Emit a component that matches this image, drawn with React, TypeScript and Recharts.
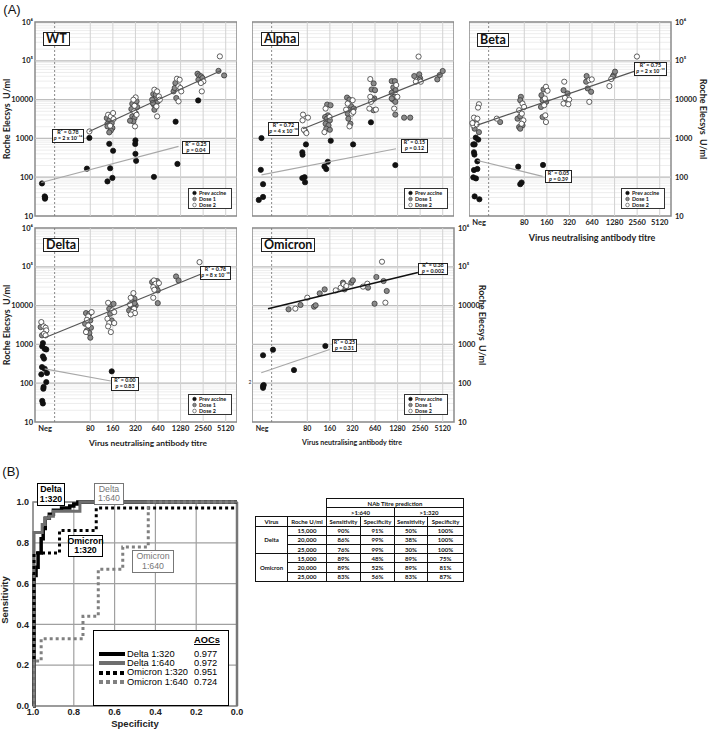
import React from 'react';
import {
  ScatterChart, Scatter, XAxis, YAxis, CartesianGrid, ReferenceLine, ReferenceArea,
  LineChart, Line,
} from 'recharts';

// ---------------- Panel A data ----------------
// x: titre position (Neg ≈ 1, 80 = 3, 160 = 4, … 5120 = 9), y: Roche Elecsys U/ml
const titreTicks = [1, 3, 4, 5, 6, 7, 8, 9];
const titreLabels = ['Neg', '80', '160', '320', '640', '1280', '2560', '5120'];
const yDecades = [10, 100, 1000, 10000, 100000, 1000000];
const yDecadeLabels = ['10', '100', '1000', '10000', '10⁵', '10⁶'];
const yMinorSteps = [2, 3, 4, 5, 6, 7, 8, 9];
const cutoffX = 1.42;
const legendLabels = ['Prev accine', 'Dose 1', 'Dose 2'];

const wtPrev = [[0.86,69],[0.98,32],[0.99,28],[1.0,30],[2.85,166],[2.96,1030],[3.84,725],[4.01,480],[3.88,170],[3.76,78],[3.98,96],[5.0,890],[4.99,720],[5.0,400],[5.03,264],[5.82,102],[6.78,2700],[6.86,220],[7.78,9500]];
const wtDose1 = [[3.73,3340],[3.85,2910],[3.95,2480],[3.76,2380],[3.98,1850],[3.91,1610],[3.84,1430],[3.76,2040],[5.05,9000],[4.86,7820],[5.08,6420],[4.82,5700],[5.01,4500],[4.86,3690],[4.96,3340],[4.91,2740],[4.76,2850],[5.79,13900],[5.89,11000],[5.74,9930],[5.99,9000],[5.82,7380],[5.84,5480],[5.77,8150],[5.9,13400],[6.77,26700],[6.69,16300],[6.81,11000],[6.74,19900],[7.75,46500],[7.82,42100],[7.91,39600],[7.79,32500],[7.97,35900],[8.68,55000],[8.93,42000]];
const wtDose2 = [[2.96,1510],[3.79,4070],[3.91,3690],[4.01,4500],[3.88,2120],[4.03,3150],[5.01,11400],[4.91,9930],[4.96,6950],[4.94,4960],[4.98,2040],[5.05,4070],[5.84,18000],[5.96,16300],[6.04,12100],[5.93,6680],[5.96,3690],[6.08,9930],[6.84,34500],[6.96,32500],[6.91,21900],[6.91,9000],[6.99,19900],[7.03,16300],[8.01,29500],[7.9,26700],[7.94,16300],[8.74,130000]];
const wtDoseFit = [[2.95,1500],[8.8,56000]];
const wtPrevFit = [[0.83,73],[6.91,620]];
const wtR2 = ['0.78', '0.25'];
const wtP = ['2 x 10⁻¹⁴', '0.04'];

const alphaPrev = [[0.97,1020],[0.94,155],[1.04,66],[0.85,26],[1.04,31],[2.94,700],[2.78,440],[2.79,380],[2.78,95],[2.88,100],[2.9,74],[4.04,870],[3.91,250],[3.76,190],[3.84,162],[5.03,700],[5.82,2600],[6.9,205]];
const alphaDose1 = [[2.91,1540],[3.88,7450],[4.03,7160],[3.91,3930],[3.79,3560],[3.87,3230],[4.0,2920],[3.81,2390],[3.94,2170],[3.84,1780],[4.0,1670],[4.76,11300],[4.87,10000],[4.94,6750],[4.87,5310],[5.06,5870],[4.79,4350],[4.82,3230],[4.91,2390],[5.94,26100],[5.85,18200],[6.0,17500],[5.97,10700],[5.9,10000],[5.93,5310],[6.74,30000],[6.88,30000],[6.81,20600],[6.91,17500],[6.74,15000],[6.85,11800],[6.79,10000],[6.9,8740],[6.9,4100],[6.74,10700],[7.29,3430],[7.56,3430],[7.74,40500],[7.96,44700],[8.0,35200],[7.97,31900],[8.76,33200],[8.87,43000],[9.0,54600]];
const alphaDose2 = [[2.81,4100],[3.03,3430],[2.79,2920],[2.85,1670],[2.96,1370],[3.81,5870],[3.99,3560],[3.76,1450],[5.01,9640],[4.79,7910],[4.72,5520],[4.97,4350],[4.87,2040],[5.04,4810],[5.79,33800],[5.79,11800],[5.75,5870],[6.04,5520],[5.82,8740],[6.94,23700],[6.99,11800],[6.85,5870],[7.93,128500],[7.81,28900],[8.03,28900]];
const alphaDoseFit = [[2.81,1780],[8.91,46000]];
const alphaPrevFit = [[0.97,115],[6.93,540]];
const alphaR2 = ['0.72', '0.15'];
const alphaP = ['4 x 10⁻¹⁰', '0.12'];

const betaPrev = [[0.85,1050],[0.96,930],[0.74,700],[0.8,700],[0.77,440],[0.79,383],[0.92,257],[0.77,153],[0.92,163],[0.74,99],[0.86,93],[0.8,32],[1.01,27],[2.73,187],[2.82,66],[2.88,73],[3.83,207]];
const betaDose1 = [[0.85,2920],[0.8,1780],[0.99,1450],[1.93,2640],[2.85,11800],[2.82,9640],[2.7,3230],[2.82,3710],[2.77,1960],[2.92,2170],[2.82,1780],[3.85,18200],[3.76,13000],[3.81,9640],[3.97,8740],[3.74,6470],[3.81,3560],[4.74,17500],[4.92,14400],[4.89,8740],[5.76,40500],[5.74,28900],[5.81,19400],[5.96,15900],[6.96,43000],[7.02,52500],[6.92,38900]];
const betaDose2 = [[0.99,7600],[0.95,6220],[0.77,3430],[0.92,3230],[0.74,2170],[0.89,2300],[0.7,2490],[1.78,3230],[2.92,7910],[2.99,6470],[2.77,5310],[2.89,4350],[2.96,2920],[2.88,2390],[3.96,21400],[4.03,16900],[3.91,10700],[3.88,7160],[3.93,3930],[3.96,2640],[4.77,28900],[4.8,11100],[4.99,10000],[4.74,7910],[4.95,7600],[5.88,31900],[5.99,33200],[5.88,8740],[6.77,22300],[6.85,33800],[7.99,129000]];
const betaDoseFit = [[0.92,2200],[7.96,56000]];
const betaPrevFit = [[0.92,270],[3.81,105]];
const betaR2 = ['0.75', '0.05'];
const betaP = ['2 x 10⁻¹⁵', '0.39'];

const deltaPrev = [[0.9,1080],[0.87,890],[0.98,770],[1.05,740],[0.9,490],[0.95,430],[0.86,260],[0.98,236],[1.08,183],[0.83,169],[1.05,107],[0.93,80],[0.92,72],[0.87,35],[0.9,30],[3.95,202]];
const deltaDose1 = [[0.8,2790],[0.86,1710],[2.81,6410],[2.96,6170],[3.0,4150],[2.77,3410],[3.03,2690],[2.85,2300],[2.96,1960],[3.0,1490],[3.91,10500],[4.03,11100],[3.84,8280],[3.88,6170],[3.95,4150],[4.96,15000],[4.86,12300],[5.01,10100],[4.82,9140],[4.72,7510],[4.91,9530],[4.96,11600],[5.96,42800],[5.74,40300],[5.93,28800],[5.99,24600],[5.99,11600],[6.8,56400],[6.91,44500]];
const deltaDose2 = [[0.83,3760],[0.93,2910],[1.02,2690],[1.05,2300],[0.95,1880],[1.02,1710],[2.91,5260],[3.06,6800],[2.85,4310],[2.91,3080],[2.81,2080],[3.79,11800],[3.98,7510],[4.06,6800],[3.76,4580],[3.84,3540],[4.06,3540],[3.91,2080],[3.79,2910],[4.91,21000],[4.79,15900],[4.76,10700],[4.94,8280],[4.86,6800],[4.98,6410],[4.79,5930],[5.82,44500],[5.89,36500],[6.04,37900],[5.79,29900],[5.84,25600],[5.79,15900],[7.84,132000]];
const deltaDoseFit = [[0.98,1480],[7.94,66000]];
const deltaPrevFit = [[0.98,235],[3.91,114]];
const deltaR2 = ['0.78', '0.00'];
const deltaP = ['8 x 10⁻¹⁸', '0.83'];

const omicronPrev = [[1.04,525],[1.48,730],[1.04,85],[1.04,76],[1.07,90],[2.41,218],[3.8,910]];
const omicronDose1 = [[2.17,8020],[2.7,10400],[3.3,9400],[3.37,10200],[3.55,20700],[3.77,26200],[4.58,39000],[4.65,26200],[4.95,39000],[5.02,44800],[5.69,29000],[5.98,11200],[6.06,54600],[6.38,43000],[6.52,23800]];
const omicronDose2 = [[2.47,8340],[3.0,16000],[4.26,24700],[4.48,29000],[4.61,35300],[4.73,32000],[5.47,30800],[5.66,36700],[6.31,135000],[6.46,11900]];
const omicronDoseFit = [[1.26,8300],[7.9,71000]];
const omicronPrevFit = [[0.96,186],[3.99,740]];
const omicronR2 = ['0.38', '0.25'];
const omicronP = ['0.002', '0.31'];

// ---------------- Panel B data ----------------
const rocTicks = [0, 0.2, 0.4, 0.6, 0.8, 1.0];
const delta320Roc = [[1.0,0],[0.995,0],[0.995,0.64],[0.985,0.64],[0.985,0.68],[0.975,0.68],[0.975,0.75],[0.96,0.75],[0.96,0.82],[0.95,0.82],[0.95,0.87],[0.94,0.87],[0.94,0.92],[0.92,0.92],[0.92,0.94],[0.9,0.94],[0.9,0.96],[0.86,0.96],[0.86,0.97],[0.82,0.97],[0.82,0.98],[0.8,0.98],[0.8,0.99],[0.78,0.99],[0.78,1.0],[0.0,1.0]];
const delta640Roc = [[1.0,0],[0.995,0],[0.995,0.85],[0.955,0.85],[0.955,0.89],[0.94,0.89],[0.94,0.92],[0.92,0.92],[0.92,0.93],[0.9,0.93],[0.9,0.955],[0.77,0.955],[0.77,1.0],[0.0,1.0]];
const omicron320Roc = [[1.0,0],[0.995,0],[0.995,0.75],[0.87,0.75],[0.87,0.86],[0.69,0.86],[0.69,0.97],[0.0,0.97]];
const omicron640Roc = [[1.0,0],[0.995,0],[0.995,0.22],[0.96,0.22],[0.96,0.33],[0.755,0.33],[0.755,0.44],[0.68,0.44],[0.68,0.67],[0.56,0.67],[0.56,0.78],[0.435,0.78],[0.435,1.0],[0.0,1.0]];
const aocNames = ['Delta 1:320', 'Delta 1:640', 'Omicron 1:320', 'Omicron 1:640'];
const aocValues = ['0.977', '0.972', '0.951', '0.724'];

// ---------------- Table data ----------------
const tableHead = ['Virus', 'Roche U/ml', 'Sensitivity', 'Specificity', 'Sensitivity', 'Specificity'];
const tableThresholds = ['>1:640', '>1:320'];
const tableViruses = ['Delta', 'Omicron'];
const deltaRows = [['15,000','90%','91%','50%','100%'],['20,000','86%','99%','38%','100%'],['25,000','76%','99%','30%','100%']];
const omicronRows = [['15,000','89%','48%','89%','75%'],['20,000','89%','52%','89%','81%'],['25,000','83%','56%','83%','87%']];

// ---------------- helpers ----------------
const toXY = (a: number[][]) => a.map(([x, y]) => ({ x, y }));
const yAllTicks: number[] = [];
yDecades.forEach((d, i) => {
  yAllTicks.push(d);
  if (i < yDecades.length - 1) yMinorSteps.forEach((k) => yAllTicks.push(d * k));
});
const fmtY = (v: number) => {
  const i = yDecades.indexOf(v);
  return i >= 0 ? yDecadeLabels[i] : '';
};
const fmtX = (v: number) => {
  const i = titreTicks.indexOf(v);
  return i >= 0 ? titreLabels[i] : '';
};

const NoShape = () => <g />;
const makeDot = (fill: string, stroke: string) => (props: any) => {
  const { cx, cy } = props;
  if (cx == null || cy == null) return <g />;
  return <circle cx={cx} cy={cy} r={2.6} fill={fill} stroke={stroke} strokeWidth={0.8} />;
};
const PrevDot = makeDot('#111', '#111');
const Dose1Dot = makeDot('#8a8a8a', '#3a3a3a');
const Dose2Dot = makeDot('#ffffff', '#3a3a3a');

const FONT_A = 'Lato, "Open Sans", sans-serif';
const FONT_B = '"Liberation Sans", Arial, sans-serif';
const PW = 202;
const PH = 194;
const AX = 30;
const M = 6;
const XH = 14;

type PanelProps = {
  left: number; top: number;
  prev: number[][]; dose1: number[][]; dose2: number[][];
  doseFit: number[][]; prevFit: number[][];
  yAxis: 'left' | 'right' | 'none'; showX: boolean;
  fitColor?: string; fitWidth?: number; xFont?: number;
};

function Panel(p: PanelProps) {
  const hasY = p.yAxis !== 'none';
  const width = PW + (hasY ? AX : 0);
  const height = M + PH + (p.showX ? XH : M);
  const cLeft = p.left - (p.yAxis === 'left' ? AX : 0);
  const tickStyle = { fontSize: 7.5, fontWeight: 700, fill: '#222', fontFamily: FONT_A };
  return (
    <div style={{ position: 'absolute', left: cLeft, top: p.top - M }}>
      <ScatterChart width={width} height={height}
        margin={{ top: M, right: 0, bottom: p.showX ? 0 : M, left: 0 }}>
        <CartesianGrid vertical={false} stroke="#e8e8e8" strokeWidth={0.8} />
        <XAxis type="number" dataKey="x" domain={[0.55, 9.5]} allowDataOverflow
          ticks={titreTicks} interval={0} tickFormatter={fmtX} hide={!p.showX}
          height={XH} axisLine={false} tickLine={false} tickSize={0} tickMargin={4}
          tick={{ ...tickStyle, fontSize: p.xFont ?? 7.5 }} />
        <YAxis type="number" dataKey="y" scale="log" domain={[10, 1000000]} allowDataOverflow
          ticks={yAllTicks} interval={0} tickFormatter={fmtY} hide={!hasY}
          orientation={p.yAxis === 'right' ? 'right' : 'left'} width={AX}
          axisLine={false} tickLine={false} tickSize={0} tickMargin={p.yAxis === 'right' ? 4 : 2}
          tick={tickStyle} />
        {yDecades.slice(1, -1).map((v) => (
          <ReferenceLine key={'h' + v} y={v} stroke="#bfbfbf" strokeWidth={1.2} />
        ))}
        {titreTicks.slice(1).map((v) => (
          <ReferenceLine key={'v' + v} x={v} stroke="#d2d2d2" strokeWidth={1} />
        ))}
        <ReferenceLine x={cutoffX} stroke="#7a7a7a" strokeWidth={0.9} strokeDasharray="2 2" />
        <ReferenceArea x1={0.55} x2={9.5} y1={10} y2={1000000} fill="none" stroke="#8a8a8a" strokeWidth={1.5} />
        <Scatter data={toXY(p.prev)} shape={PrevDot} isAnimationActive={false} />
        <Scatter data={toXY(p.dose1)} shape={Dose1Dot} isAnimationActive={false} />
        <Scatter data={toXY(p.dose2)} shape={Dose2Dot} isAnimationActive={false} />
        <Scatter data={toXY(p.prevFit)} shape={NoShape} line={{ stroke: '#a8a8a8', strokeWidth: 1.2 }} isAnimationActive={false} />
        <Scatter data={toXY(p.doseFit)} shape={NoShape} line={{ stroke: p.fitColor ?? '#555', strokeWidth: p.fitWidth ?? 1.2 }} isAnimationActive={false} />
      </ScatterChart>
    </div>
  );
}

function StatBox({ x, y, w, h, r2, pv }: { x: number; y: number; w: number; h: number; r2: string; pv: string }) {
  return (
    <div style={{
      position: 'absolute', left: x, top: y, width: w, height: h, boxSizing: 'border-box',
      border: '1.2px solid #222', background: '#fff', fontFamily: FONT_A, fontWeight: 700,
      fontSize: 5.3, lineHeight: '5.6px', color: '#111', display: 'flex', flexDirection: 'column',
      justifyContent: 'center', alignItems: 'center', whiteSpace: 'nowrap',
    }}>
      <div>R² = {r2}</div>
      <div><i>p</i> = {pv}</div>
    </div>
  );
}

function PanelLegend({ x, y }: { x: number; y: number }) {
  const styles = [['#111', '#111'], ['#8a8a8a', '#3a3a3a'], ['#fff', '#3a3a3a']];
  return (
    <div style={{
      position: 'absolute', left: x, top: y, width: 44, height: 21, boxSizing: 'border-box',
      border: '1.3px solid #333', background: '#fff', padding: '0.5px 0 0 3px',
      fontFamily: FONT_A, fontWeight: 700, fontSize: 5.4, lineHeight: '6.1px', color: '#111',
    }}>
      {legendLabels.map((l, i) => (
        <div key={l} style={{ display: 'flex', alignItems: 'center', whiteSpace: 'nowrap', height: 6.1 }}>
          <svg width={6} height={6} style={{ flex: 'none' }}>
            <circle cx={2.5} cy={3} r={1.8} fill={styles[i][0]} stroke={styles[i][1]} strokeWidth={0.6} />
          </svg>
          <span style={{ marginLeft: 1 }}>{l}</span>
        </div>
      ))}
    </div>
  );
}

function TitleBox({ x, y, text }: { x: number; y: number; text: string }) {
  return (
    <div style={{
      position: 'absolute', left: x, top: y, boxSizing: 'border-box', border: '1.5px solid #222',
      background: '#fff', padding: '0 2px', fontFamily: FONT_A, fontWeight: 700, fontSize: 12.5,
      lineHeight: '11px', height: 14, color: '#111', whiteSpace: 'nowrap',
    }}>{text}</div>
  );
}

function Txt({ x, y, text, size, rot = 0, weight = 700, font = FONT_A, color = '#222' }:
  { x: number; y: number; text: string; size: number; rot?: number; weight?: number; font?: string; color?: string }) {
  return (
    <div style={{
      position: 'absolute', left: x, top: y, transform: `translate(-50%, -50%) rotate(${rot}deg)`,
      fontFamily: font, fontSize: size, fontWeight: weight, whiteSpace: 'pre', color, lineHeight: 1,
    }}>{text}</div>
  );
}

function RocLabel({ x, y, w, h, lines, color, weight }: { x: number; y: number; w: number; h: number; lines: string[]; color: string; weight: number }) {
  return (
    <div style={{
      position: 'absolute', left: x, top: y, width: w, height: h, boxSizing: 'border-box',
      border: `1.3px solid ${color}`, background: '#fff', color, fontFamily: FONT_B, fontWeight: weight,
      fontSize: 8.8, lineHeight: '9.5px', display: 'flex', flexDirection: 'column',
      justifyContent: 'center', alignItems: 'center',
    }}>
      {lines.map((l) => <div key={l}>{l}</div>)}
    </div>
  );
}

const rocStyles = [
  { stroke: '#000', dash: undefined as string | undefined, width: 3.5 },
  { stroke: '#6e6e6e', dash: undefined as string | undefined, width: 3 },
  { stroke: '#000', dash: '3 3', width: 3 },
  { stroke: '#808080', dash: '3 3', width: 3 },
];
const rocSeries = [delta320Roc, delta640Roc, omicron320Roc, omicron640Roc];

function Roc() {
  const tick = { fontSize: 9, fontWeight: 700, fill: '#222', fontFamily: FONT_B };
  return (
    <div style={{ position: 'absolute', left: 0, top: 496 }}>
      <LineChart width={252} height={224} margin={{ top: 6, right: 15, bottom: 0, left: 0 }}>
        <CartesianGrid stroke="#a0a0a0" strokeWidth={1.2} />
        <XAxis type="number" dataKey="s" domain={[0, 1]} reversed ticks={rocTicks} interval={0}
          tickFormatter={(v: number) => v.toFixed(1)} height={14} axisLine={false} tickLine={false}
          tickSize={0} tickMargin={3} tick={tick} />
        <YAxis type="number" dataKey="t" domain={[0, 1]} ticks={rocTicks} interval={0}
          tickFormatter={(v: number) => v.toFixed(1)} width={33} axisLine={false} tickLine={false}
          tickSize={0} tickMargin={4} tick={tick} />
        <ReferenceArea x1={0} x2={1} y1={0} y2={1} fill="none" stroke="#8a8a8a" strokeWidth={1.5} />
        <ReferenceLine x={0} stroke="#777" strokeWidth={2.5} />
        {rocSeries.map((s, i) => (
          <Line key={i} data={s.map(([a, b]) => ({ s: a, t: b }))} dataKey="t" type="linear"
            stroke={rocStyles[i].stroke} strokeWidth={rocStyles[i].width}
            strokeDasharray={rocStyles[i].dash} dot={false} isAnimationActive={false} />
        ))}
      </LineChart>
    </div>
  );
}

function AocLegend() {
  return (
    <div style={{
      position: 'absolute', left: 93, top: 630, width: 136, height: 76, boxSizing: 'border-box',
      border: '1.5px solid #000', background: '#fff', fontFamily: FONT_B, fontSize: 9.3, color: '#000',
    }}>
      <div style={{ position: 'absolute', left: 100, top: 5, fontWeight: 700, textDecoration: 'underline', lineHeight: '9px' }}>AOCs</div>
      {aocNames.map((n, i) => (
        <React.Fragment key={n}>
          <svg style={{ position: 'absolute', left: 5, top: 20 + i * 9.4 }} width={26} height={6}>
            <line x1={0} y1={3} x2={26} y2={3} stroke={rocStyles[i].stroke} strokeWidth={4}
              strokeDasharray={rocStyles[i].dash ? '4 3' : undefined} />
          </svg>
          <div style={{ position: 'absolute', left: 33, top: 18.5 + i * 9.4, lineHeight: '9px', whiteSpace: 'nowrap' }}>{n}</div>
          <div style={{ position: 'absolute', left: 100, top: 18.5 + i * 9.4, lineHeight: '9px' }}>{aocValues[i]}</div>
        </React.Fragment>
      ))}
    </div>
  );
}

function NabTable() {
  const cell: React.CSSProperties = { border: '1px solid #111', padding: 0, textAlign: 'center', height: 8.2, lineHeight: '7px' };
  const empty: React.CSSProperties = { border: 'none', padding: 0 };
  const widths = [32, 39, 34, 34, 33, 36];
  const body = (name: string, rows: string[][]) => rows.map((r, i) => (
    <tr key={name + i}>
      {i === 0 && <td rowSpan={3} style={cell}>{name}</td>}
      {r.map((c, j) => <td key={j} style={cell}>{c}</td>)}
    </tr>
  ));
  return (
    <table style={{
      position: 'absolute', left: 255, top: 498, borderCollapse: 'collapse', tableLayout: 'fixed',
      width: 208, fontFamily: FONT_A, fontWeight: 700, fontSize: 6, color: '#111',
    }}>
      <colgroup>{widths.map((w, i) => <col key={i} style={{ width: w }} />)}</colgroup>
      <tbody>
        <tr style={{ height: 9 }}>
          <td style={empty} /><td style={empty} />
          <td colSpan={4} style={cell}>NAb Titre prediction</td>
        </tr>
        <tr style={{ height: 9 }}>
          <td style={empty} /><td style={empty} />
          {tableThresholds.map((t) => <td key={t} colSpan={2} style={cell}>{t}</td>)}
        </tr>
        <tr style={{ height: 8.5 }}>
          {tableHead.map((h, i) => <td key={i} style={{ ...cell, whiteSpace: 'nowrap', overflow: 'hidden' }}>{h}</td>)}
        </tr>
        {body(tableViruses[0], deltaRows)}
        {body(tableViruses[1], omicronRows)}
      </tbody>
    </table>
  );
}

export default function App() {
  const xTitle = 'Virus neutralising antibody titre';
  const yTitle = 'Roche Elecsys  U/ml';
  return (
    <div style={{ position: 'absolute', left: 0, top: 0, width: 709, height: 730, background: '#fff', overflow: 'hidden' }}>
      <Panel left={35} top={22} prev={wtPrev} dose1={wtDose1} dose2={wtDose2} doseFit={wtDoseFit} prevFit={wtPrevFit} yAxis="left" showX={false} />
      <Panel left={252} top={22} prev={alphaPrev} dose1={alphaDose1} dose2={alphaDose2} doseFit={alphaDoseFit} prevFit={alphaPrevFit} yAxis="none" showX={false} />
      <Panel left={469} top={22} prev={betaPrev} dose1={betaDose1} dose2={betaDose2} doseFit={betaDoseFit} prevFit={betaPrevFit} yAxis="right" showX />
      <Panel left={35} top={228} prev={deltaPrev} dose1={deltaDose1} dose2={deltaDose2} doseFit={deltaDoseFit} prevFit={deltaPrevFit} yAxis="left" showX />
      <Panel left={252} top={228} prev={omicronPrev} dose1={omicronDose1} dose2={omicronDose2} doseFit={omicronDoseFit} prevFit={omicronPrevFit} yAxis="right" showX fitColor="#111" fitWidth={1.6} xFont={7} />

      <Txt x={12} y={9} text="(A)" size={13} weight={400} font={FONT_B} color="#111" />
      <Txt x={11} y={471} text="(B)" size={13} weight={400} font={FONT_B} color="#111" />

      <Txt x={6} y={119} text={yTitle} size={9} rot={-90} />
      <Txt x={6} y={325} text={yTitle} size={9} rot={-90} />
      <Txt x={703} y={119} text={yTitle} size={9} rot={90} />
      <Txt x={482} y={325} text={yTitle} size={9} rot={90} />
      <Txt x={592} y={237} text={xTitle} size={9} />
      <Txt x={148} y={443} text={xTitle} size={8.4} />
      <Txt x={352} y={443} text={xTitle} size={7.1} />
      <Txt x={250} y={382} text="2" size={5} weight={400} />

      <TitleBox x={43} y={32} text="WT" />
      <TitleBox x={261} y={32} text="Alpha" />
      <TitleBox x={477} y={33} text="Beta" />
      <TitleBox x={43} y={238} text="Delta" />
      <TitleBox x={261} y={238} text="Omicron" />

      <StatBox x={52} y={129} w={32} h={14} r2={wtR2[0]} pv={wtP[0]} />
      <StatBox x={182} y={141} w={28} h={13} r2={wtR2[1]} pv={wtP[1]} />
      <StatBox x={268} y={122} w={31} h={14} r2={alphaR2[0]} pv={alphaP[0]} />
      <StatBox x={401} y={139} w={27} h={14} r2={alphaR2[1]} pv={alphaP[1]} />
      <StatBox x={634} y={62} w={33} h={14} r2={betaR2[0]} pv={betaP[0]} />
      <StatBox x={545} y={170} w={27} h={13} r2={betaR2[1]} pv={betaP[1]} />
      <StatBox x={200} y={266} w={31} h={14} r2={deltaR2[0]} pv={deltaP[0]} />
      <StatBox x={111} y={377} w={28} h={14} r2={deltaR2[1]} pv={deltaP[1]} />
      <StatBox x={418} y={263} w={30} h={12} r2={omicronR2[0]} pv={omicronP[0]} />
      <StatBox x={332} y={339} w={25} h={13} r2={omicronR2[1]} pv={omicronP[1]} />

      <PanelLegend x={188} y={188} />
      <PanelLegend x={404} y={188} />
      <PanelLegend x={621} y={188} />
      <PanelLegend x={188} y={394} />
      <PanelLegend x={404} y={394} />

      <Roc />
      <Txt x={135} y={724} text="Specificity" size={9.5} font={FONT_B} />
      <Txt x={5} y={600} text="Sensitivity" size={9.5} rot={-90} font={FONT_B} />
      <RocLabel x={37} y={483} w={28} h={23} lines={['Delta', '1:320']} color="#000" weight={700} />
      <RocLabel x={94} y={483} w={30} h={22} lines={['Delta', '1:640']} color="#777" weight={400} />
      <RocLabel x={68} y={535} w={35} h={22} lines={['Omicron', '1:320']} color="#000" weight={700} />
      <RocLabel x={132} y={550} w={42} h={23} lines={['Omicron', '1:640']} color="#777" weight={400} />
      <AocLegend />

      <NabTable />
    </div>
  );
}
